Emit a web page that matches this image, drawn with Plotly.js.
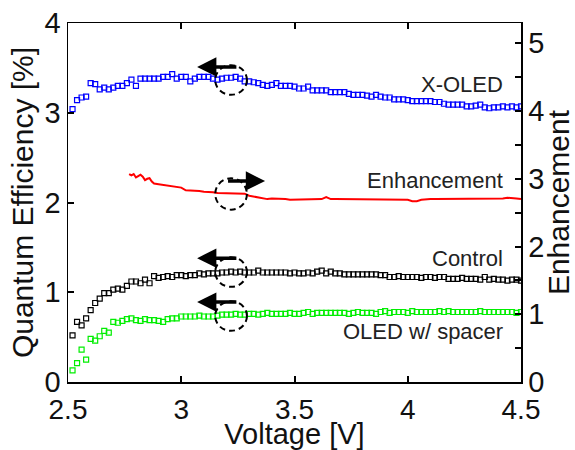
<!DOCTYPE html>
<html>
<head>
<meta charset="utf-8">
<script src="https://cdn.plot.ly/plotly-3.0.1.min.js"></script>
<style>html,body{margin:0;padding:0;background:#fff;}#chart{width:575px;height:450px;}</style>
</head>
<body>
<div id="chart"></div>
<script>
// Voltage sweep [V]
var voltage = [
2.52,2.54,2.56,2.58,2.60,2.62,2.64,2.66,2.68,2.70,
2.72,2.74,2.76,2.78,2.80,2.82,2.84,2.86,2.88,2.90,
2.92,2.94,2.96,2.98,3.00,3.02,3.04,3.06,3.08,3.10,
3.12,3.14,3.16,3.18,3.20,3.22,3.24,3.26,3.28,3.30,
3.32,3.34,3.36,3.38,3.40,3.42,3.44,3.46,3.48,3.50,
3.52,3.54,3.56,3.58,3.60,3.62,3.64,3.66,3.68,3.70,
3.72,3.74,3.76,3.78,3.80,3.82,3.84,3.86,3.88,3.90,
3.92,3.94,3.96,3.98,4.00,4.02,4.04,4.06,4.08,4.10,
4.12,4.14,4.16,4.18,4.20,4.22,4.24,4.26,4.28,4.30,
4.32,4.34,4.36,4.38,4.40,4.42,4.44,4.46,4.48,4.50];

// Quantum efficiency [%]
var xoled = [
3.04,3.14,3.17,3.18,3.33,3.32,3.26,3.28,3.26,3.28,
3.30,3.30,3.33,3.37,3.30,3.38,3.38,3.38,3.38,3.38,
3.40,3.40,3.43,3.38,3.40,3.40,3.35,3.38,3.40,3.40,
3.40,3.38,3.37,3.38,3.39,3.39,3.40,3.38,3.35,3.35,
3.34,3.33,3.31,3.30,3.31,3.33,3.30,3.30,3.30,3.29,
3.27,3.27,3.29,3.25,3.25,3.25,3.25,3.23,3.23,3.23,
3.23,3.21,3.20,3.20,3.20,3.19,3.18,3.20,3.18,3.17,
3.17,3.15,3.15,3.15,3.14,3.13,3.13,3.13,3.13,3.13,
3.12,3.12,3.10,3.09,3.09,3.09,3.09,3.07,3.07,3.08,
3.09,3.06,3.05,3.06,3.06,3.07,3.06,3.07,3.06,3.07];

var control = [
0.52,0.67,0.63,0.71,0.80,0.88,0.93,0.99,0.99,1.03,
1.04,1.03,1.07,1.12,1.12,1.10,1.14,1.10,1.18,1.16,
1.17,1.18,1.17,1.19,1.19,1.18,1.19,1.19,1.21,1.20,
1.21,1.21,1.21,1.22,1.22,1.23,1.22,1.23,1.22,1.22,
1.22,1.24,1.22,1.22,1.22,1.22,1.22,1.22,1.21,1.22,
1.21,1.21,1.22,1.21,1.23,1.24,1.21,1.23,1.21,1.21,
1.20,1.20,1.20,1.20,1.20,1.20,1.20,1.20,1.19,1.19,
1.17,1.17,1.18,1.17,1.17,1.17,1.17,1.16,1.17,1.17,
1.16,1.17,1.17,1.15,1.15,1.15,1.16,1.15,1.15,1.15,
1.14,1.17,1.14,1.15,1.14,1.14,1.13,1.14,1.14,1.13];

var spacer = [
0.13,0.21,0.36,0.25,0.48,0.46,0.51,0.57,0.55,0.67,
0.66,0.68,0.70,0.71,0.69,0.68,0.70,0.69,0.69,0.68,
0.67,0.70,0.71,0.71,0.73,0.73,0.73,0.73,0.74,0.73,
0.73,0.73,0.74,0.75,0.75,0.75,0.76,0.75,0.75,0.76,
0.76,0.75,0.76,0.77,0.76,0.76,0.76,0.76,0.77,0.76,
0.76,0.77,0.78,0.76,0.77,0.77,0.77,0.77,0.77,0.77,
0.77,0.76,0.77,0.78,0.77,0.77,0.77,0.76,0.78,0.79,
0.77,0.78,0.78,0.78,0.77,0.79,0.78,0.78,0.78,0.78,
0.78,0.79,0.78,0.79,0.78,0.78,0.78,0.78,0.78,0.78,
0.79,0.78,0.78,0.78,0.78,0.78,0.78,0.78,0.77,0.78];

// Enhancement (right axis)
var enhVoltage = [
2.77,2.78,2.79,2.80,2.81,2.82,2.83,2.84,2.85,2.86,2.87,2.88,
2.90,2.92,2.94,2.96,2.98,3.00,3.02,3.04,3.06,3.08,3.10,
3.12,3.14,3.16,3.18,3.20,3.22,3.24,3.26,3.28,3.30,
3.32,3.34,3.36,3.38,3.40,3.42,3.44,3.46,3.48,3.50,
3.52,3.54,3.56,3.58,3.60,3.62,3.64,3.66,3.68,3.70,
3.72,3.74,3.76,3.78,3.80,3.82,3.84,3.86,3.88,3.90,
3.92,3.94,3.96,3.98,4.00,4.02,4.04,4.06,4.08,4.10,
4.12,4.14,4.16,4.18,4.20,4.22,4.24,4.26,4.28,4.30,
4.32,4.34,4.36,4.38,4.40,4.42,4.44,4.46,4.48,4.50];
var enhancement = [
3.07,3.05,3.07,3.02,3.04,3.06,3.03,2.98,3.00,3.01,2.96,2.93,
2.92,2.91,2.89,2.89,2.88,2.87,2.83,2.83,2.82,2.82,2.81,
2.81,2.80,2.79,2.79,2.79,2.79,2.79,2.79,2.78,2.75,
2.74,2.73,2.71,2.70,2.71,2.71,2.70,2.70,2.69,2.69,
2.69,2.70,2.70,2.70,2.70,2.70,2.73,2.70,2.70,2.70,
2.70,2.70,2.70,2.70,2.70,2.70,2.70,2.70,2.70,2.70,
2.70,2.70,2.70,2.70,2.69,2.67,2.67,2.69,2.70,2.70,
2.70,2.70,2.70,2.70,2.70,2.70,2.70,2.70,2.70,2.70,
2.70,2.70,2.70,2.70,2.70,2.71,2.72,2.72,2.71,2.70];

var xTicks = [2.5, 3, 3.5, 4, 4.5];
var yTicks = [0, 1, 2, 3, 4];
var y2Ticks = [0, 1, 2, 3, 4, 5];
var seriesLabels = ['X-OLED', 'Enhancement', 'Control', 'OLED w/ spacer'];

var FONT = 'Liberation Sans, Arial, Helvetica, sans-serif';

function sq(color) {
  return {symbol: 'square-open', size: 5, color: color, line: {color: color, width: 1.2}};
}

var traces = [
  {x: voltage, y: xoled, type: 'scatter', mode: 'markers', marker: sq('#0000ff'), name: seriesLabels[0]},
  {x: voltage, y: control, type: 'scatter', mode: 'markers', marker: sq('#000000'), name: seriesLabels[2]},
  {x: voltage, y: spacer, type: 'scatter', mode: 'markers', marker: sq('#00ee00'), name: seriesLabels[3]},
  {x: enhVoltage, y: enhancement, type: 'scatter', mode: 'lines', yaxis: 'y2', line: {color: '#ff0000', width: 2}, name: seriesLabels[1]}
];

function circ(y0, y1) {
  return {type: 'circle', xref: 'x', yref: 'y', x0: 3.15, x1: 3.29, y0: y0, y1: y1,
          line: {color: '#000', width: 2, dash: '6px,4px'}};
}
function arrow(y, fromX, toX) {
  return {xref: 'x', yref: 'y', axref: 'x', ayref: 'y', x: toX, y: y, ax: fromX, ay: y,
          text: '', showarrow: true, arrowhead: 2, arrowsize: 1.1, arrowwidth: 3.5, arrowcolor: '#000'};
}
function label(text, y) {
  return {xref: 'x', yref: 'y', x: 4.43, y: y, xanchor: 'right', yanchor: 'middle', text: text,
          showarrow: false, font: {family: FONT, size: 22, color: '#222'}};
}

var axisCommon = {
  showgrid: false, zeroline: false, showline: true, linecolor: '#000', linewidth: 1.5,
  ticks: 'inside', ticklen: 6, tickwidth: 2, tickcolor: '#000',
  tickfont: {family: FONT, size: 29, color: '#111'}
};

var layout = {
  width: 575, height: 450,
  margin: {l: 68, r: 54, t: 23, b: 68},
  paper_bgcolor: '#fff', plot_bgcolor: '#fff',
  showlegend: false,
  xaxis: Object.assign({}, axisCommon, {
    range: [2.5, 4.5], tickvals: xTicks, mirror: 'ticks', ticklabelstandoff: 2,
    tickfont: {family: FONT, size: 28, color: '#111'},
    title: {text: 'Voltage [V]', font: {family: FONT, size: 29, color: '#111'}, standoff: 6}
  }),
  yaxis: Object.assign({}, axisCommon, {
    range: [0, 4], tickvals: yTicks, mirror: false,
    title: {text: 'Quantum Efficiency [%]', font: {family: FONT, size: 30, color: '#111'}, standoff: 2}
  }),
  yaxis2: Object.assign({}, axisCommon, {
    range: [0, 5.3], tickvals: y2Ticks, overlaying: 'y', side: 'right', mirror: false,
    minor: {tickvals: [0.5, 1.5, 2.5, 3.5, 4.5], ticks: 'inside', ticklen: 6, tickwidth: 2, tickcolor: '#000'},
    title: {text: 'Enhancement', font: {family: FONT, size: 30, color: '#111'}, standoff: 2}
  }),
  shapes: [circ(3.20, 3.53), circ(1.92, 2.27), circ(1.06, 1.39), circ(0.57, 0.90)],
  annotations: [
    arrow(3.51, 3.25, 3.07),
    arrow(2.24, 3.20, 3.37),
    arrow(1.38, 3.25, 3.07),
    arrow(0.89, 3.25, 3.07),
    label(seriesLabels[0], 3.31),
    label(seriesLabels[1], 2.25),
    label(seriesLabels[2], 1.38),
    label(seriesLabels[3], 0.56)
  ]
};

Plotly.newPlot('chart', traces, layout, {displayModeBar: false, staticPlot: true});
</script>
</body>
</html>
